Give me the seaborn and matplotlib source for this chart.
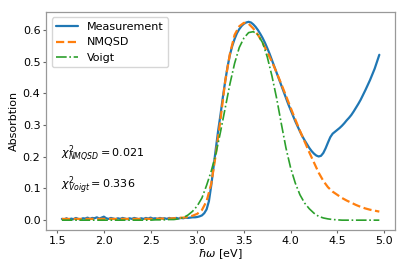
import numpy as np
import pandas as pd
import matplotlib
matplotlib.use('Agg')
import matplotlib.pyplot as plt
import seaborn as sns

# measured spectrum, 0.025 eV steps from 1.55 to 4.95
E_meas = np.round(np.arange(1.55, 4.9501, 0.025), 3)
A_meas = [
    # 1.550 - 2.975 (flat, noisy)
    .004, .002, .006, .001, .005, .003, .007, .004, .002, .006,
    .005, .008, .004, .007, .006, .009, .005, .008, .011, .006,
    .004, .007, .005, .003, .006, .004, .007, .005, .003, .006,
    .004, .007, .005, .003, .006, .004, .007, .005, .008, .005,
    .006, .004, .007, .005, .006, .004, .007, .005, .006, .007,
    .005, .007, .006, .008, .007, .008, .009, .009,
    # 3.000 - 3.575 (onset and peak)
    .010, .012, .015, .022, .034, .060, .110, .170, .228, .285,
    .335, .390, .440, .485, .522, .550, .572, .590, .603, .613,
    .620, .624, .626, .624,
    # 3.600 - 4.950
    .618, .610, .600, .588, .575, .560, .543, .525, .505, .485,
    .465, .445, .425, .405, .385, .366, .348, .330, .312, .296,
    .280, .265, .252, .240, .228, .218, .210, .204, .201, .203,
    .212, .227, .245, .262, .273, .279, .285, .291, .298, .306,
    .315, .323, .332, .343, .355, .367, .380, .395, .410, .426,
    .442, .460, .478, .500, .522,
]

# model curves, 0.05 eV steps from 1.55 to 4.95
E_fit = np.round(np.arange(1.55, 4.9501, 0.05), 3)
A_nmqsd = [
    .004, .004, .004, .004, .004, .004, .004, .004, .004, .004,
    .004, .004, .004, .004, .004, .004, .004, .004, .004, .004,
    .004, .005, .005, .005, .006,
    .007, .008, .010, .014, .020, .032, .060, .115, .210, .320,
    .440, .525, .585, .612, .623, .620, .605, .585, .560, .530,
    .500, .466, .430, .393, .355, .318, .282, .248, .214, .182,
    .150, .124, .104, .090, .080, .070, .062, .055, .048, .042,
    .037, .033, .030, .027,
]
A_voigt = [
    .000, .000, .000, .000, .000, .000, .000, .000, .000, .000,
    .000, .000, .000, .000, .000, .000, .000, .000, .000, .000,
    .001, .001, .001, .002, .002,
    .004, .008, .016, .028, .045, .070, .110, .155, .210, .280,
    .355, .430, .495, .545, .575, .592, .595, .585, .560, .515,
    .455, .385, .305, .228, .165, .117, .080, .054, .036, .022,
    .012, .007, .004, .002, .001, .000, .000, .000, .000, .000,
    .000, .000, .000, .000,
]

chi_nmqsd = 0.021
chi_voigt = 0.336

meas = pd.DataFrame({'E': E_meas, 'A': A_meas})
fits = pd.DataFrame({'E': E_fit, 'NMQSD': A_nmqsd, 'Voigt': A_voigt})

sns.set_style("ticks")
plt.rcParams['font.family'] = ['DejaVu Sans']
plt.rcParams['mathtext.fontset'] = 'dejavusans'
plt.rcParams['text.color'] = 'black'
plt.rcParams['axes.labelcolor'] = 'black'
plt.rcParams['xtick.labelcolor'] = 'black'
plt.rcParams['ytick.labelcolor'] = 'black'

fig, ax = plt.subplots(figsize=(4.07, 2.71), dpi=100)
fig.subplots_adjust(left=0.113, right=0.971, bottom=0.151, top=0.956)

pal = sns.color_palette("tab10")
sns.lineplot(data=meas, x='E', y='A', ax=ax, color=pal[0], lw=1.6,
             label='Measurement')
sns.lineplot(data=fits, x='E', y='NMQSD', ax=ax, color=pal[1], lw=1.6,
             ls='--', label='NMQSD')
sns.lineplot(data=fits, x='E', y='Voigt', ax=ax, color=pal[2], lw=1.2,
             ls='-.', label='Voigt')

ax.margins(x=0.05, y=0.05)
ax.set_xticks([1.5, 2.0, 2.5, 3.0, 3.5, 4.0, 4.5, 5.0])
ax.set_yticks([0.0, 0.1, 0.2, 0.3, 0.4, 0.5, 0.6])
ax.tick_params(labelsize=8, length=2.5, width=0.8, color='0.4', pad=1.5,
               labelcolor='black')
ax.set_xlabel(r'$\hbar\omega$ [eV]', fontsize=8, labelpad=1, color='black')
ax.set_ylabel('Absorbtion', fontsize=8, labelpad=3, color='black')
for s in ax.spines.values():
    s.set_color('0.6')
    s.set_linewidth(0.9)

ax.text(1.54, 0.2, r'$\chi^2_{NMQSD} = %.3f$' % chi_nmqsd, fontsize=8,
        color='black')
ax.text(1.54, 0.1, r'$\chi^2_{Voigt} = %.3f$' % chi_voigt, fontsize=8,
        color='black')

leg = ax.legend(loc='upper left', fontsize=8, framealpha=0.8, edgecolor='0.8',
                handlelength=2.0, borderpad=0.4, labelspacing=0.5)
for t in leg.get_texts():
    t.set_color('black')

plt.savefig('out.png', dpi=100)
plt.close()
